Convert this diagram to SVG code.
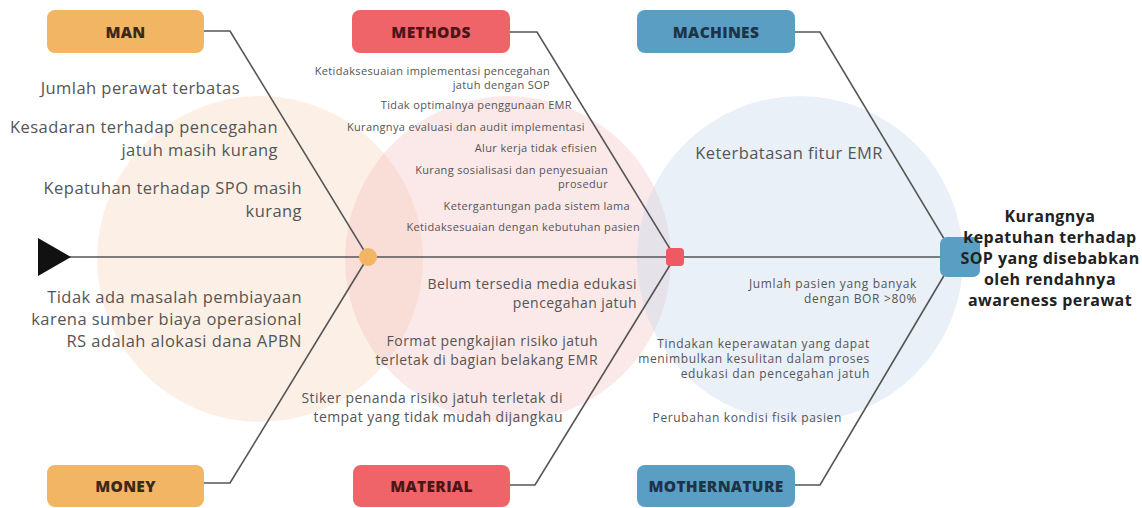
<svg xmlns="http://www.w3.org/2000/svg" width="1142" height="508" viewBox="0 0 1142 508">
<style>
  .lbl { font-family: "Open Sans", "Liberation Sans", sans-serif; font-weight: 800; font-size: 15.5px; letter-spacing: 0.3px; text-anchor: middle; }
  .big { font-family: "Open Sans", "Liberation Sans", sans-serif; font-size: 16.5px; letter-spacing: 0.45px; fill: #555; text-anchor: end; }
  .mat { font-family: "Open Sans", "Liberation Sans", sans-serif; font-size: 14px; letter-spacing: 0.45px; fill: #555; text-anchor: end; }
  .sm { font-family: "Open Sans", "Liberation Sans", sans-serif; font-size: 11px; letter-spacing: 0.35px; fill: #555; text-anchor: end; }
  .md { font-family: "Open Sans", "Liberation Sans", sans-serif; font-size: 12px; letter-spacing: 0.65px; fill: #555; text-anchor: end; }
  .head { font-family: "Open Sans", "Liberation Sans", sans-serif; font-weight: 700; font-size: 16px; letter-spacing: 0.45px; fill: #222; text-anchor: middle; }
  .bone { fill: none; stroke: #555; stroke-width: 1.6; }
  .orange { fill: #F2B564; }
  .red { fill: #EE6469; }
  .blue { fill: #5B9EC3; }
</style>
<rect width="1142" height="508" fill="#ffffff"/>
<g id="backgrounds">
  <circle cx="260" cy="259" r="163" fill="#F7D5BA" fill-opacity="0.36"/>
  <circle cx="508" cy="259" r="163" fill="#F2B8BC" fill-opacity="0.33"/>
  <circle cx="800" cy="259" r="163" fill="#C9DAEB" fill-opacity="0.4"/>
</g>
<g id="connectors">
  <line class="bone" x1="66" y1="257" x2="950" y2="257"/>
  <polyline class="bone" points="204,31 230,31 368,257"/>
  <polyline class="bone" points="510,32 537,32 675,257"/>
  <polyline class="bone" points="795,32 820,32 955,257"/>
  <polyline class="bone" points="204,483 230,483 368,257"/>
  <polyline class="bone" points="510,485 535,485 675,257"/>
  <polyline class="bone" points="795,485 820,485 955,257"/>
  <polygon points="38,238 71,257 38,276" fill="#111"/>
</g>
<g id="joint-man-money"><circle cx="368" cy="257" r="9" class="orange"/></g>
<g id="joint-methods-material"><rect x="666" y="248" width="18" height="18" rx="4" fill="#EE5A64"/></g>
<g id="node-man">
  <rect x="47" y="10" width="157" height="43" rx="8" class="orange"/>
  <text x="125.5" y="38" class="lbl" fill="#3b2a18">MAN</text>
  <text x="240" y="94" class="big">Jumlah perawat terbatas</text>
  <text x="278" y="133" class="big">Kesadaran terhadap pencegahan</text>
  <text x="278" y="156" class="big">jatuh masih kurang</text>
  <text x="302" y="194" class="big">Kepatuhan terhadap SPO masih</text>
  <text x="302" y="217" class="big">kurang</text>
</g>
<g id="node-methods">
  <rect x="352" y="10" width="158" height="43" rx="8" class="red"/>
  <text x="431" y="38" class="lbl" fill="#4a1616">METHODS</text>
  <text x="550" y="75" class="sm">Ketidaksesuaian implementasi pencegahan</text>
  <text x="550" y="89" class="sm">jatuh dengan SOP</text>
  <text x="572" y="109" class="sm">Tidak optimalnya penggunaan EMR</text>
  <text x="585" y="131" class="sm">Kurangnya evaluasi dan audit implementasi</text>
  <text x="597" y="152" class="sm">Alur kerja tidak efisien</text>
  <text x="608" y="174" class="sm">Kurang sosialisasi dan penyesuaian</text>
  <text x="608" y="188" class="sm">prosedur</text>
  <text x="630" y="210" class="sm">Ketergantungan pada sistem lama</text>
  <text x="640" y="231" class="sm">Ketidaksesuaian dengan kebutuhan pasien</text>
</g>
<g id="node-machines">
  <rect x="637" y="10" width="158" height="43" rx="8" class="blue"/>
  <text x="716" y="38" class="lbl" fill="#1c3446">MACHINES</text>
  <text x="883" y="159" class="big">Keterbatasan fitur EMR</text>
</g>
<g id="node-money">
  <rect x="47" y="465" width="157" height="42" rx="8" class="orange"/>
  <text x="125.5" y="492" class="lbl" fill="#3b2a18">MONEY</text>
  <text x="302" y="303" class="big">Tidak ada masalah pembiayaan</text>
  <text x="302" y="325" class="big">karena sumber biaya operasional</text>
  <text x="302" y="347" class="big">RS adalah alokasi dana APBN</text>
</g>
<g id="node-material">
  <rect x="353" y="465" width="157" height="42" rx="8" class="red"/>
  <text x="431.5" y="492" class="lbl" fill="#4a1616">MATERIAL</text>
  <text x="637" y="289" class="mat">Belum tersedia media edukasi</text>
  <text x="637" y="308" class="mat">pencegahan jatuh</text>
  <text x="598" y="346" class="mat">Format pengkajian risiko jatuh</text>
  <text x="598" y="365" class="mat">terletak di bagian belakang EMR</text>
  <text x="563" y="403" class="mat">Stiker penanda risiko jatuh terletak di</text>
  <text x="563" y="422" class="mat">tempat yang tidak mudah dijangkau</text>
</g>
<g id="node-mothernature">
  <rect x="637" y="465" width="158" height="42" rx="8" class="blue"/>
  <text x="716" y="492" class="lbl" fill="#1c3446">MOTHERNATURE</text>
  <text x="917" y="288" class="md">Jumlah pasien yang banyak</text>
  <text x="917" y="303" class="md">dengan BOR &gt;80%</text>
  <text x="870" y="348" class="md">Tindakan keperawatan yang dapat</text>
  <text x="870" y="363" class="md">menimbulkan kesulitan dalam proses</text>
  <text x="870" y="378" class="md">edukasi dan pencegahan jatuh</text>
  <text x="842" y="422" class="md">Perubahan kondisi fisik pasien</text>
</g>
<g id="node-head">
  <rect x="940" y="237" width="40" height="40" rx="7" class="blue"/>
  <text x="1050" y="222" class="head">Kurangnya</text>
  <text x="1050" y="243" class="head">kepatuhan terhadap</text>
  <text x="1050" y="264" class="head">SOP yang disebabkan</text>
  <text x="1050" y="285" class="head">oleh rendahnya</text>
  <text x="1050" y="306" class="head">awareness perawat</text>
</g>
</svg>
